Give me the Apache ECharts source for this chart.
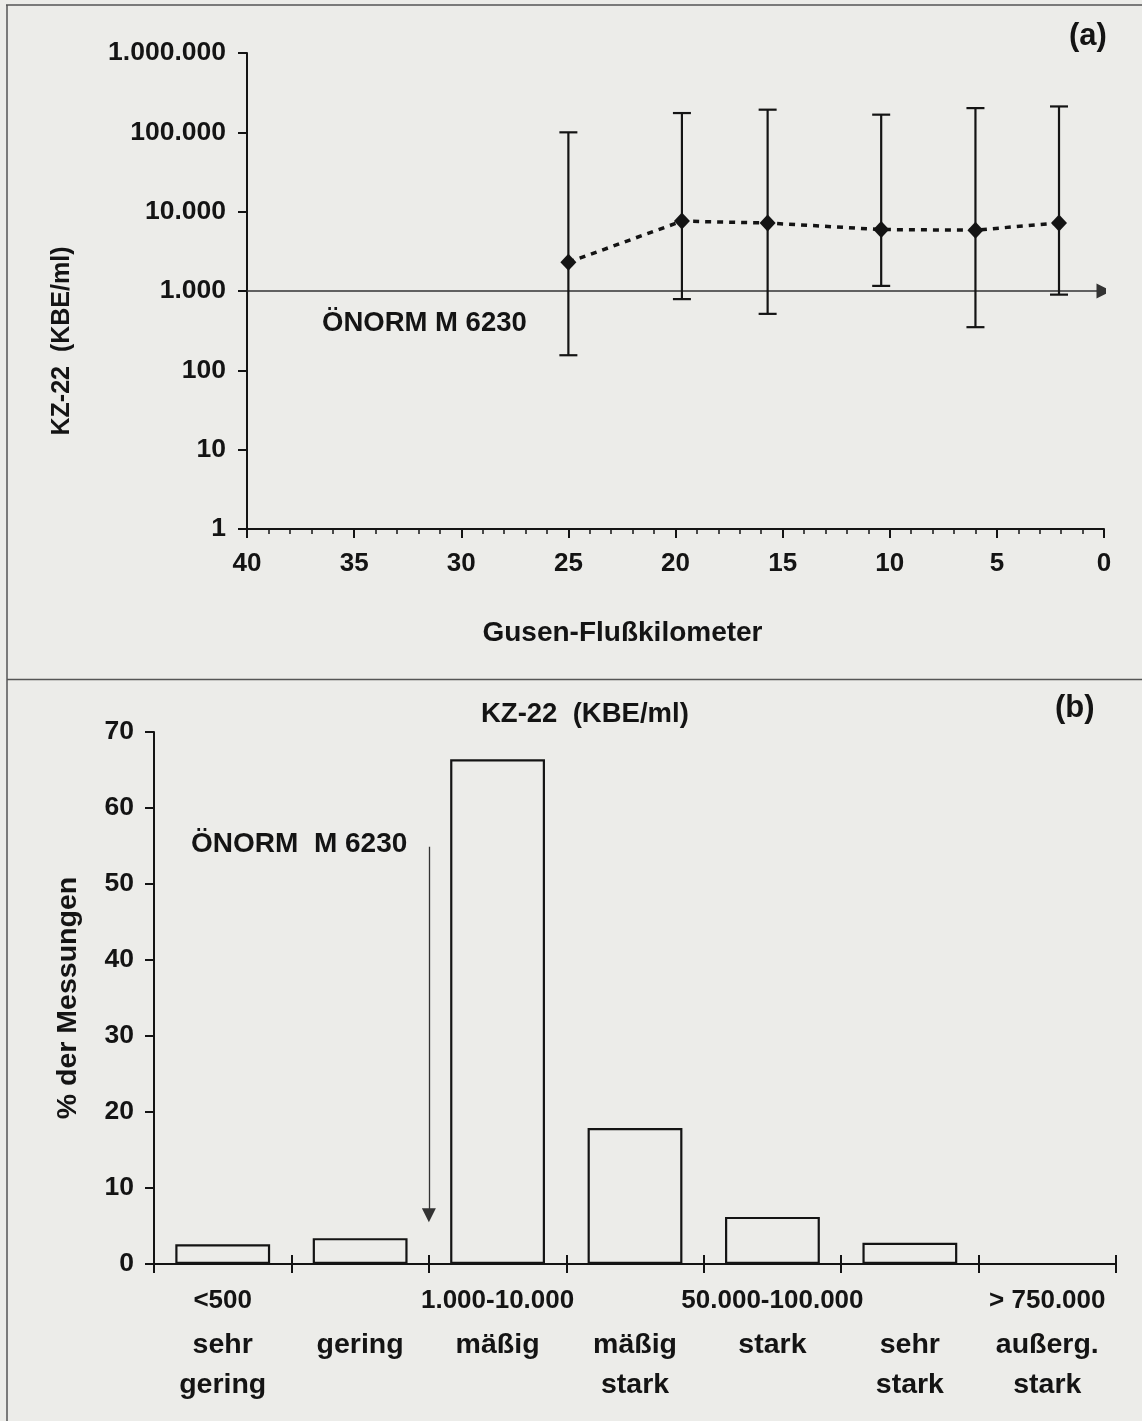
<!DOCTYPE html>
<html>
<head>
<meta charset="utf-8">
<script src="https://cdn.jsdelivr.net/npm/echarts@6/dist/echarts.min.js"></script>
<style>
  html, body { margin: 0; padding: 0; background: #ecece9; }
  #chart { width: 1142px; height: 1421px; }
</style>
</head>
<body>
<div id="chart"></div>
<script>
// (a) KZ-22 along the Gusen: river kilometre, mean, minimum and maximum (KBE/ml)
const riverKm   = [25, 19.7, 15.7, 10.4, 6, 2.1];
const kzMean    = [2300, 7600, 7200, 5950, 5850, 7200];
const kzMin     = [155, 790, 515, 1160, 350, 900];
const kzMax     = [100000, 175000, 193000, 167000, 202000, 212000];
const normLimit = 1000;               // ÖNORM M 6230 limit value

// (b) share of measurements per contamination class
const classRanges = ['<500', '', '1.000-10.000', '', '50.000-100.000', '', '> 750.000'];
const classNames  = ['sehr\ngering', 'gering', 'mäßig', 'mäßig\nstark', 'stark', 'sehr\nstark', 'außerg.\nstark'];
const percentMeasured = [2.6, 3.4, 66.4, 17.9, 6.2, 2.8, 0];
const normClassBoundary = 2;          // between "gering" and "mäßig"
const normArrowFrom = 54.9;
const normArrowTo = 6.4;

const FONT = '"Liberation Sans", Arial, sans-serif';
const INK = '#141414';

function germanThousands(v) {
  const n = Math.round(v);
  return String(n).replace(/\B(?=(\d{3})+(?!\d))/g, '.');
}

// range on the first line, class name on the following lines
function classLabel(value, idx) {
  const range = classRanges[idx] || ' ';
  const names = classNames[idx].split('\n').map(s => '{c|' + s + '}').join('\n');
  return '{r|' + range + '}\n' + names;
}

const txt = (size) => ({ fontFamily: FONT, fontSize: size, fontWeight: 'bold', color: INK });

const chart = echarts.init(document.getElementById('chart'), null, { renderer: 'canvas' });

chart.setOption({
  backgroundColor: '#ecece9',
  animation: false,
  title: [
    { text: '(a)', left: 1069, top: 21, padding: 0, textStyle: txt(31) },
    { text: '(b)', left: 1055, top: 693, padding: 0, textStyle: txt(31) },
    { text: 'KZ-22  (KBE/ml)', left: 481, top: 700, padding: 0, textStyle: txt(27.5) },
    { text: 'ÖNORM M 6230', left: 322, top: 309, padding: 0, textStyle: txt(27.5) },
    { text: 'ÖNORM  M 6230', left: 191, top: 830, padding: 0, textStyle: txt(28) }
  ],
  graphic: [
    { type: 'line', shape: { x1: 6, y1: 5, x2: 1142, y2: 5 }, style: { stroke: '#555', lineWidth: 1.5 }, silent: true },
    { type: 'line', shape: { x1: 7, y1: 5, x2: 7, y2: 1421 }, style: { stroke: '#555', lineWidth: 1.5 }, silent: true },
    { type: 'line', shape: { x1: 7, y1: 679.5, x2: 1142, y2: 679.5 }, style: { stroke: '#555', lineWidth: 1.5 }, silent: true }
  ],
  grid: [
    { left: 247, right: 38, top: 53, height: 476 },
    { left: 154, right: 26, top: 732, height: 532 }
  ],
  xAxis: [
    {
      gridIndex: 0, type: 'value', min: 0, max: 40, interval: 5, inverse: true,
      axisLine: { show: true, onZero: false, lineStyle: { color: INK, width: 2 } },
      axisTick: { show: true, length: 9, lineStyle: { color: INK, width: 2 } },
      minorTick: { show: true, splitNumber: 5, length: 5, lineStyle: { color: INK, width: 1.5 } },
      splitLine: { show: false }, minorSplitLine: { show: false },
      axisLabel: Object.assign({ margin: 22, formatter: v => String(v) }, txt(26)),
      name: 'Gusen-Flußkilometer', nameLocation: 'middle', nameGap: 90,
      nameTextStyle: Object.assign({ padding: [0, 106, 0, 0] }, txt(28))
    },
    {
      gridIndex: 1, type: 'category', data: classNames, boundaryGap: true,
      axisLine: { show: true, onZero: false, lineStyle: { color: INK, width: 2 } },
      axisTick: { show: true, length: 9, interval: 0, lineStyle: { color: INK, width: 2 } },
      splitLine: { show: false },
      axisLabel: Object.assign({
        interval: 0, margin: 13, formatter: classLabel,
        rich: {
          r: Object.assign({ lineHeight: 48 }, txt(26)),
          c: Object.assign({ lineHeight: 40 }, txt(28.5))
        }
      }, txt(26))
    },
    {
      // boundary ticks pointing up, so each class boundary tick crosses the axis
      gridIndex: 1, type: 'value', min: 0, max: 7, interval: 1, position: 'bottom',
      axisLine: { show: false, onZero: false },
      axisTick: { show: true, inside: true, length: 9, lineStyle: { color: INK, width: 2 } },
      axisLabel: { show: false }, splitLine: { show: false }
    }
  ],
  yAxis: [
    {
      gridIndex: 0, type: 'log', logBase: 10, min: 1, max: 1000000,
      axisLine: { show: true, onZero: false, lineStyle: { color: INK, width: 2 } },
      axisTick: { show: true, length: 9, lineStyle: { color: INK, width: 2 } },
      minorTick: { show: false }, splitLine: { show: false },
      axisLabel: Object.assign({ margin: 21, formatter: germanThousands }, txt(26.5)),
      name: 'KZ-22  (KBE/ml)', nameLocation: 'middle', nameGap: 172,
      nameTextStyle: Object.assign({ padding: [0, 100, 0, 0] }, txt(25))
    },
    {
      gridIndex: 1, type: 'value', min: 0, max: 70, interval: 10,
      axisLine: { show: true, onZero: false, lineStyle: { color: INK, width: 2 } },
      axisTick: { show: true, length: 9, lineStyle: { color: INK, width: 2 } },
      splitLine: { show: false },
      axisLabel: Object.assign({ margin: 20 }, txt(26.5)),
      name: '% der Messungen', nameLocation: 'middle', nameGap: 71,
      nameTextStyle: txt(28.5)
    }
  ],
  series: [
    {
      name: 'Spannweite', type: 'custom', xAxisIndex: 0, yAxisIndex: 0, z: 3,
      data: riverKm.map((k, i) => [k, kzMin[i], kzMax[i]]),
      encode: { x: 0, y: [1, 2] },
      renderItem: function (params, api) {
        const lo = api.coord([api.value(0), api.value(1)]);
        const hi = api.coord([api.value(0), api.value(2)]);
        const half = 9;
        const st = { stroke: INK, lineWidth: 2.2 };
        return {
          type: 'group',
          children: [
            { type: 'line', shape: { x1: lo[0], y1: lo[1], x2: hi[0], y2: hi[1] }, style: st },
            { type: 'line', shape: { x1: lo[0] - half, y1: lo[1], x2: lo[0] + half, y2: lo[1] }, style: st },
            { type: 'line', shape: { x1: hi[0] - half, y1: hi[1], x2: hi[0] + half, y2: hi[1] }, style: st }
          ]
        };
      }
    },
    {
      name: 'Mittelwert', type: 'line', xAxisIndex: 0, yAxisIndex: 0, z: 4,
      data: riverKm.map((k, i) => [k, kzMean[i]]),
      symbol: 'diamond', symbolSize: [16, 17],
      itemStyle: { color: INK },
      lineStyle: { color: INK, width: 3.5, type: [6, 6] }
    },
    {
      name: 'ÖNORM M 6230', type: 'lines', coordinateSystem: 'cartesian2d', xAxisIndex: 0, yAxisIndex: 0, z: 2,
      data: [{ coords: [[40, normLimit], [0, normLimit]] }],
      symbol: ['none', 'triangle'], symbolSize: [13, 15],
      lineStyle: { color: '#333', width: 1.6, opacity: 1 }
    },
    {
      name: 'Anteil', type: 'bar', xAxisIndex: 1, yAxisIndex: 1,
      data: percentMeasured, barWidth: '69%',
      itemStyle: { color: 'rgba(0,0,0,0)', borderColor: INK, borderWidth: 2.2 }
    },
    {
      name: 'Grenzwert', type: 'lines', coordinateSystem: 'cartesian2d', xAxisIndex: 2, yAxisIndex: 1,
      data: [{ coords: [[normClassBoundary, normArrowFrom], [normClassBoundary, normArrowTo]] }],
      symbol: ['none', 'triangle'], symbolSize: [11, 14],
      lineStyle: { color: '#333', width: 1.3, opacity: 1 }
    }
  ]
});
</script>
</body>
</html>
